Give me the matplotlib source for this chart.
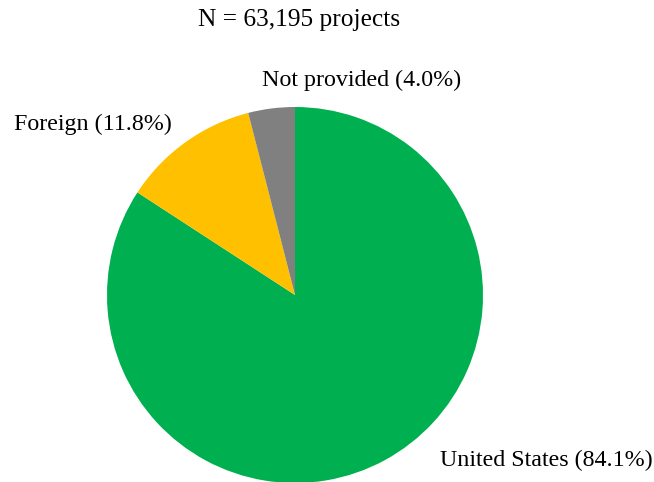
import matplotlib.pyplot as plt

categories = ['United States', 'Foreign', 'Not provided']
shares = [84.1, 11.8, 4.0]
colors = ['#00B050', '#FFC000', '#808080']
total_projects = 63195

plt.rcParams['font.family'] = ['Liberation Serif', 'DejaVu Serif']

W, H = 654, 482
fig = plt.figure(figsize=(W / 100, H / 100), dpi=100)

# pie centre and radius in pixels (from top-left)
cx, cy, r = 295, 295, 188
ax = fig.add_axes([(cx - r) / W, (H - cy - r) / H, 2 * r / W, 2 * r / H])
wedges, _ = ax.pie(shares, colors=colors, startangle=90, counterclock=False,
                   radius=1, wedgeprops=dict(linewidth=0))
for w in wedges:
    w.set_clip_on(False)
ax.set_xlim(-1, 1)
ax.set_ylim(-1, 1)
ax.set_aspect('equal')
ax.axis('off')

fig.text(299 / W, 1 - 20 / H, f'N = {total_projects:,} projects', ha='center', va='center', fontsize=18.3)

fs = 17.3
label_pos = {
    'United States': (440, 460),
    'Foreign': (14, 124),
    'Not provided': (262, 80),
}
for name, val in zip(categories, shares):
    x, y = label_pos[name]
    fig.text(x / W, 1 - y / H, f'{name} ({val:.1f}%)', ha='left', va='center', fontsize=fs)

fig.savefig('out.png', dpi=100)
